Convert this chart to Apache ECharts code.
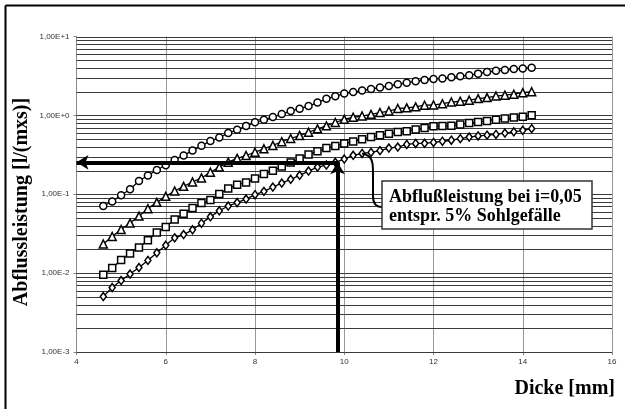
<!DOCTYPE html>
<html><head><meta charset="utf-8">
<script src="https://cdn.jsdelivr.net/npm/echarts@6/dist/echarts.min.js"></script>
<style>html,body{margin:0;padding:0;background:#fff}#c{width:625px;height:409px}</style>
</head><body><div id="c"></div>
<script>
const xValues = [4.6,4.8,5.0,5.2,5.4,5.6,5.8,6.0,6.2,6.4,6.6,6.8,7.0,7.2,7.4,7.6,7.8,8.0,8.2,8.4,8.6,8.8,9.0,9.2,9.4,9.6,9.8,10.0,10.2,10.4,10.6,10.8,11.0,11.2,11.4,11.6,11.8,12.0,12.2,12.4,12.6,12.8,13.0,13.2,13.4,13.6,13.8,14.0,14.2];
const circleValues = [0.071,0.081,0.097,0.116,0.147,0.173,0.203,0.233,0.272,0.311,0.358,0.411,0.473,0.524,0.597,0.656,0.736,0.816,0.879,0.953,1.04,1.135,1.214,1.314,1.455,1.622,1.75,1.893,1.977,2.066,2.16,2.256,2.357,2.475,2.586,2.711,2.808,2.891,2.942,3.04,3.139,3.23,3.383,3.546,3.672,3.758,3.861,3.94,4.02];
const triangleValues = [0.0234,0.0291,0.0357,0.0431,0.0529,0.0657,0.0789,0.094,0.110,0.126,0.143,0.161,0.190,0.221,0.255,0.285,0.310,0.341,0.377,0.416,0.463,0.509,0.555,0.611,0.675,0.737,0.812,0.891,0.947,0.981,1.031,1.087,1.135,1.222,1.246,1.283,1.345,1.353,1.405,1.476,1.511,1.556,1.631,1.683,1.759,1.806,1.854,1.94,1.992];
const squareValues = [0.00953,0.0116,0.01464,0.0177,0.0211,0.0262,0.0327,0.0384,0.0478,0.0564,0.0668,0.0774,0.0844,0.1006,0.1181,0.1323,0.1407,0.1582,0.1804,0.1987,0.2245,0.2523,0.2838,0.3189,0.3499,0.3854,0.4085,0.4395,0.4661,0.4984,0.5315,0.5601,0.5868,0.615,0.6314,0.6615,0.6912,0.7264,0.7328,0.737,0.7677,0.7999,0.826,0.8505,0.8807,0.912,0.9391,0.9585,1.004];
const diamondValues = [0.00504,0.00656,0.00804,0.00973,0.01176,0.0145,0.0181,0.0225,0.028,0.0308,0.0354,0.0429,0.0517,0.0617,0.0709,0.0785,0.0869,0.0988,0.1088,0.1234,0.1387,0.1545,0.1737,0.1969,0.2213,0.2346,0.2539,0.2795,0.3114,0.3292,0.3391,0.3573,0.3854,0.3968,0.4282,0.4409,0.442,0.4539,0.47,0.484,0.5071,0.5313,0.5486,0.5616,0.5732,0.5971,0.6183,0.6459,0.6792];
const yGridValues = [0.001,0.002,0.003,0.004,0.005,0.006,0.007,0.008,0.009,0.01,0.02,0.03,0.04,0.05,0.06,0.07,0.08,0.09,0.1,0.2,0.3,0.4,0.5,0.6,0.7,0.8,0.9,1,2,3,4,5,6,7,8,9,10];
const yTickValues = [0.001,0.01,0.1,1,10];
const yTickLabels = ['1,00E-3','1,00E-2','1,00E-1','1,00E+0','1,00E+1'];
const xTickValues = [4,6,8,10,12,14,16];
const arrowThickness = 9.85;   // Dicke at 5% slope reading
const arrowFlow = 0.254;       // Abflussleistung reading
const calloutIndex = 29;       // point on diamond curve where the callout points
const yTitle = 'Abflussleistung [l/(mxs)]';
const xTitle = 'Dicke [mm]';
const noteLines = ['Abflußleistung bei i=0,05', 'entspr. 5% Sohlgefälle'];

const chart = echarts.init(document.getElementById('c'), null, {renderer: 'canvas'});
const pair = vals => xValues.map((x, i) => [x, vals[i]]);
const lineSeries = (name, vals, symbol, size) => ({
  name, type: 'line', data: pair(vals), symbol, symbolSize: size, z: 3,
  itemStyle: {color: '#fff', borderColor: '#000', borderWidth: 1.5},
  lineStyle: {color: '#000', width: 1.3},
  emphasis: {disabled: true}, silent: true
});
const serif = '"Liberation Serif", "Times New Roman", serif';

const s1 = lineSeries('Kreis', circleValues, 'circle', 7);
const s2 = lineSeries('Dreieck', triangleValues, 'triangle', 8);
const s3 = lineSeries('Quadrat', squareValues, 'rect', 7);
const s4 = lineSeries('Raute', diamondValues, 'diamond', [6, 8]);
s2.markLine = {
  silent: true, symbol: ['arrow', 'none'], symbolSize: [11, 12],
  label: {show: false}, lineStyle: {color: '#000', width: 4, type: 'solid'},
  data: [[{coord: [4.0, arrowFlow]}, {coord: [arrowThickness + 0.04, arrowFlow]}]]
};
s3.markLine = {
  silent: true, symbol: ['none', 'arrow'], symbolSize: [11, 12],
  label: {show: false}, lineStyle: {color: '#000', width: 4, type: 'solid'},
  data: [[{coord: [arrowThickness, 0.001]}, {coord: [arrowThickness, arrowFlow]}]]
};

const gridSeries = {
  type: 'custom', z: 1, silent: true,
  data: yGridValues.map(v => [v]),
  renderItem: (params, api) => {
    const v = api.value(0);
    const p1 = api.coord([4, v]), p2 = api.coord([16, v]);
    return {type: 'line', shape: {x1: p1[0], y1: Math.round(p1[1]) + 0.5, x2: p2[0], y2: Math.round(p2[1]) + 0.5},
      style: {stroke: '#3a3a3a', lineWidth: 1}};
  },
  encode: {x: -1, y: 0}
};

chart.setOption({
  animation: false,
  backgroundColor: '#fff',
  grid: {left: 76.5, right: 13, top: 36.5, bottom: 57, containLabel: false},
  xAxis: {
    type: 'value', min: 4, max: 16, interval: 2,
    axisLine: {show: true, lineStyle: {color: '#888', width: 1}},
    axisTick: {show: true, length: 3, lineStyle: {color: '#888'}},
    axisLabel: {fontSize: 8, color: '#333', margin: 6, fontFamily: 'Liberation Sans, Arial, sans-serif',
      formatter: v => xTickValues.includes(v) ? String(v) : ''},
    splitLine: {show: true, lineStyle: {color: '#999', width: 1}}
  },
  yAxis: {
    type: 'log', logBase: 10, min: 0.001, max: 10,
    axisLine: {show: true, lineStyle: {color: '#888', width: 1}},
    axisTick: {show: true, length: 3, lineStyle: {color: '#888'}},
    axisLabel: {fontSize: 8, color: '#333', margin: 7, fontFamily: 'Liberation Sans, Arial, sans-serif',
      formatter: v => {
        const i = yTickValues.findIndex(t => Math.abs(Math.log10(t) - Math.log10(v)) < 1e-6);
        return i >= 0 ? yTickLabels[i] : '';
      }},
    splitLine: {show: false}
  },
  series: [gridSeries, s1, s2, s3, s4]
});

const p0 = chart.convertToPixel({xAxisIndex: 0, yAxisIndex: 0}, [xValues[calloutIndex], diamondValues[calloutIndex]]);
const bx = 382, by = 181, bw = 210, bh = 48;
const cStyle = {stroke: '#000', lineWidth: 2, fill: null};
chart.setOption({
  graphic: [
    {type: 'line', shape: {x1: 5.5, y1: 5.5, x2: 625, y2: 5.5}, style: {stroke: '#000', lineWidth: 2}},
    {type: 'line', shape: {x1: 5.5, y1: 5.5, x2: 5.5, y2: 409}, style: {stroke: '#000', lineWidth: 2}},
    {type: 'text', x: 22, y: 202, rotation: Math.PI / 2,
      style: {text: yTitle, font: 'bold 20px ' + serif, fill: '#000', align: 'center', verticalAlign: 'middle'}},
    {type: 'text', x: 615, y: 389,
      style: {text: xTitle, font: 'bold 20px ' + serif, fill: '#000', align: 'right', verticalAlign: 'middle'}},
    {type: 'bezierCurve', z: 10,
      shape: {x1: p0[0], y1: p0[1], cpx1: p0[0] + 10, cpy1: p0[1] + 2, cpx2: 373, cpy2: p0[1] + 8, x2: 373, y2: p0[1] + 18},
      style: cStyle},
    {type: 'line', z: 10, shape: {x1: 373, y1: p0[1] + 18, x2: 373, y2: 196}, style: cStyle},
    {type: 'bezierCurve', z: 10,
      shape: {x1: 373, y1: 196, cpx1: 373, cpy1: 203, cpx2: 376, cpy2: by + 26, x2: bx, y2: by + 26},
      style: cStyle},
    {type: 'rect', z: 10, shape: {x: bx, y: by, width: bw, height: bh},
      style: {fill: '#fff', stroke: '#333', lineWidth: 1.5}},
    {type: 'text', z: 11, x: bx + 7, y: by + 16,
      style: {text: noteLines[0], font: 'bold 18px ' + serif, fill: '#000', verticalAlign: 'middle'}},
    {type: 'text', z: 11, x: bx + 7, y: by + 35,
      style: {text: noteLines[1], font: 'bold 18px ' + serif, fill: '#000', verticalAlign: 'middle'}}
  ]
});
</script>
</body></html>
